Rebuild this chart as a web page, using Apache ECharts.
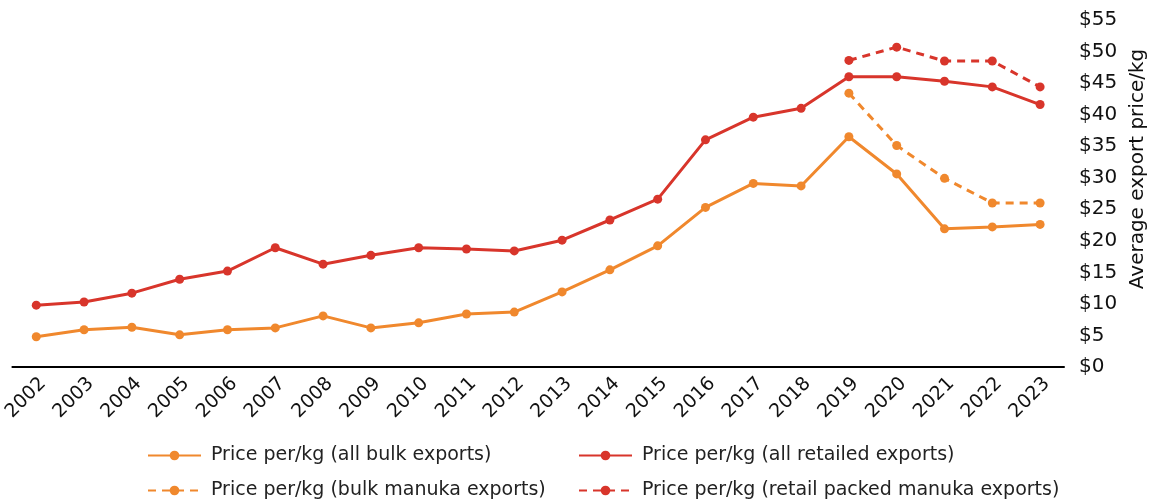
<!DOCTYPE html>
<html>
<head>
<meta charset="utf-8">
<script src="https://cdn.jsdelivr.net/npm/echarts@6/dist/echarts.min.js"></script>
<style>
html,body{margin:0;padding:0;background:#fff;}
#chart{width:1154px;height:504px;}
</style>
</head>
<body>
<div id="chart"></div>
<script>
const years = ['2002','2003','2004','2005','2006','2007','2008','2009','2010','2011','2012','2013','2014','2015','2016','2017','2018','2019','2020','2021','2022','2023'];
const bulkAll = [4.8, 5.9, 6.3, 5.1, 5.9, 6.2, 8.1, 6.2, 7.0, 8.4, 8.7, 11.9, 15.4, 19.2, 25.3, 29.1, 28.7, 36.5, 30.6, 21.9, 22.2, 22.6];
const retailAll = [9.8, 10.3, 11.7, 13.9, 15.2, 18.9, 16.3, 17.7, 18.9, 18.7, 18.4, 20.1, 23.3, 26.6, 36.0, 39.6, 41.0, 46.0, 46.0, 45.3, 44.4, 41.6];
const bulkManuka = [null, null, null, null, null, null, null, null, null, null, null, null, null, null, null, null, null, 43.4, 35.1, 29.9, 26.0, 26.0];
const retailManuka = [null, null, null, null, null, null, null, null, null, null, null, null, null, null, null, null, null, 48.6, 50.7, 48.5, 48.5, 44.4];
const seriesNames = ['Price per/kg (all bulk exports)', 'Price per/kg (all retailed exports)', 'Price per/kg (bulk manuka exports)', 'Price per/kg (retail packed manuka exports)'];
const yTicks = [0, 5, 10, 15, 20, 25, 30, 35, 40, 45, 50, 55];

const ORANGE = '#F0882D';
const RED = '#D8352B';
const FONT = 'DejaVu Sans';

const chart = echarts.init(document.getElementById('chart'));

function mkSeries(name, data, color, dashed) {
  return {
    name: name, type: 'line', data: data,
    symbol: 'circle', symbolSize: 9,
    connectNulls: false,
    itemStyle: { color: color },
    lineStyle: { color: color, width: 3, type: dashed ? [8, 6] : 'solid' },
    emphasis: { disabled: true },
    animation: false
  };
}

function mkLegend(name, left, top) {
  return {
    data: [name], left: left, top: top, padding: 0,
    itemWidth: 53, itemHeight: 12,
    textStyle: { fontFamily: FONT, fontSize: 19, color: '#222', padding: [0, 0, 0, 5] },
    selectedMode: false
  };
}

chart.setOption({
  animation: false,
  grid: { left: 10, right: 90, top: 20, bottom: 137, containLabel: false },
  legend: [
    mkLegend(seriesNames[0], 147, 446),
    mkLegend(seriesNames[1], 578, 446),
    mkLegend(seriesNames[2], 147, 481),
    mkLegend(seriesNames[3], 578, 481)
  ],
  xAxis: {
    type: 'category', data: years, boundaryGap: true,
    axisLine: { show: true, lineStyle: { color: '#000', width: 2 } },
    axisTick: { show: false },
    axisLabel: { rotate: 45, fontFamily: FONT, fontSize: 19, color: '#111', margin: 7, interval: 0, verticalAlign: 'top' }
  },
  yAxis: {
    type: 'value', position: 'right', min: 0, max: 55, interval: 5,
    splitLine: { show: false },
    axisLine: { show: false }, axisTick: { show: false },
    axisLabel: {
      fontFamily: FONT, fontSize: 20, color: '#111', margin: 15,
      formatter: function (v) { return yTicks.indexOf(v) >= 0 ? '$' + v : ''; }
    }
  },
  graphic: [{
    type: 'text', x: 1138, y: 169, rotation: Math.PI / 2,
    style: { text: 'Average export price/kg', font: '20px "' + FONT + '"', fill: '#111', textAlign: 'center', textVerticalAlign: 'middle' }
  }],
  series: [
    mkSeries(seriesNames[0], bulkAll, ORANGE, false),
    mkSeries(seriesNames[1], retailAll, RED, false),
    mkSeries(seriesNames[2], bulkManuka, ORANGE, true),
    mkSeries(seriesNames[3], retailManuka, RED, true)
  ]
});
</script>
</body>
</html>
